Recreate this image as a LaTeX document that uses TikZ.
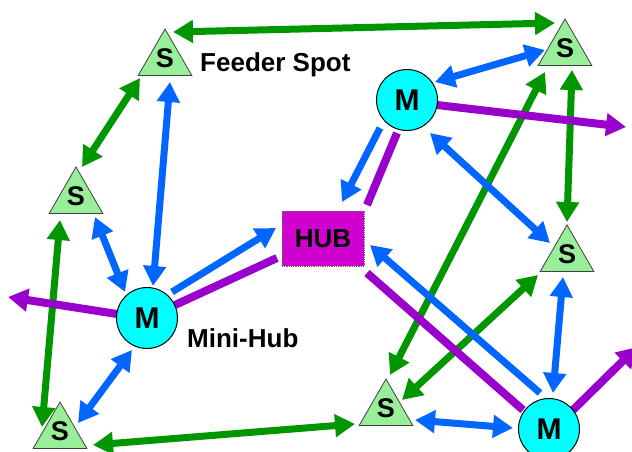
\documentclass[tikz,border=0pt]{standalone}
\usepackage{fontspec}
\setmainfont{Liberation Sans}
\usetikzlibrary{arrows.meta,shapes.geometric,calc}
\pgfdeclarelayer{bg}
\pgfsetlayers{bg,main}
\definecolor{spotfill}{RGB}{153,238,153}
\definecolor{minifill}{RGB}{0,255,255}
\definecolor{hubfill}{RGB}{208,0,208}
\definecolor{agreen}{RGB}{0,150,0}
\definecolor{ablue}{RGB}{0,102,255}
\definecolor{apurple}{RGB}{153,0,204}
\begin{document}
\begin{tikzpicture}[x=1pt,y=-1pt,
  font=\fontsize{26}{30}\selectfont\bfseries,
  spot/.style={regular polygon, regular polygon sides=3, minimum size=62pt, inner sep=0pt,
    fill=spotfill, draw=black!75, line width=0.8pt,
    font=\fontsize{27}{30}\selectfont\bfseries},
  mini/.style={circle, minimum size=61pt, inner sep=0pt, fill=minifill, draw=black, line width=1pt,
    font=\fontsize{30}{30}\selectfont\bfseries},
  hubbox/.style={rectangle, minimum width=82pt, minimum height=55pt, inner sep=0pt,
    fill=hubfill, draw=black!60, densely dotted, line width=0.8pt},
  lbl/.style={anchor=base west, inner sep=0pt},
  tipx/.tip={Triangle[length=20pt,width=22pt]},
  garrow/.style={draw=agreen, line width=7pt, tipx-tipx},
  barrow/.style={draw=ablue, line width=7pt, tipx-tipx},
  bsingle/.style={draw=ablue, line width=7pt, -tipx},
  pline/.style={draw=apurple, line width=8pt},
  parrow/.style={draw=apurple, line width=8pt, -tipx}
]
\useasboundingbox (0,0) rectangle (632,452);

% nodes
\node[spot] (S1) at (165,60) {\raisebox{3pt}{S}};
\node[spot] (S2) at (76,198) {\raisebox{3pt}{S}};
\node[spot] (S3) at (60,433) {\raisebox{3pt}{S}};
\node[spot] (S4) at (386,410) {\raisebox{3pt}{S}};
\node[spot] (S5) at (567,256) {\raisebox{3pt}{S}};
\node[spot] (S6) at (565,50) {\raisebox{3pt}{S}};
\node[mini] (M1) at (147,318) {M};
\node[mini] (M2) at (407,100) {M};
\node[mini] (M3) at (549,429) {M};
\node[hubbox] (HUB) at (323,238.5) {HUB};
\node[lbl] (lblF) at (200,72) {Feeder Spot};
\node[lbl] (lblM) at (187,347) {Mini-Hub};

\coordinate (outL) at (8,297);
\coordinate (outR) at (626,127);
\coordinate (outB) at (637,347);

\begin{pgfonlayer}{bg}
% green
\draw[garrow] ($(S1)+(8,-28)$) -- ($(S6)+(-10,-27)$);
\draw[garrow] ($(S2)+(6,-31)$) -- ($(S1)+(-25,18)$);
\draw[garrow] ($(S2)+(-16,22)$) -- ($(S3)+(-18,-6)$);
\draw[garrow] ($(S3)+(33,12)$) -- ($(S4)+(-31,14)$);
\draw[garrow] ($(S6)+(7,20)$) -- ($(S5)+(0,-34)$);
\draw[garrow] ($(S4)+(4,-35)$) -- ($(S6)+(-20,22)$);
\draw[garrow] ($(S4)+(16,-10)$) -- ($(S5)+(-29,19)$);
% purple
\draw[pline] ($(M1)+(28,-13)$) -- ($(HUB)+(-46,19.5)$);
\draw[parrow] ($(M1)+(-30,-4)$) -- (outL);
\draw[pline] ($(M2)+(-10,33)$) -- ($(HUB)+(44,-33.5)$);
\draw[parrow] ($(M2)+(30,5)$) -- (outR);
\draw[pline] ($(HUB)+(44,34.5)$) -- ($(M3)+(-26,-19)$);
\draw[parrow] ($(M3)+(24,-19)$) -- (outB);
% blue
\draw[barrow] ($(S1)+(5,22)$) -- ($(M1)+(6,-32)$);
\draw[barrow] ($(S2)+(19,19)$) -- ($(M1)+(-22,-26)$);
\draw[barrow] ($(M1)+(-15,32)$) -- ($(S3)+(18,-10)$);
\draw[bsingle] ($(M1)+(25,-26)$) -- ($(HUB)+(-47,-10.5)$);
\draw[bsingle] ($(M2)+(-27,28)$) -- ($(HUB)+(19,-36.5)$);
\draw[barrow] ($(M2)+(28,-18)$) -- ($(S6)+(-20,0)$);
\draw[barrow] ($(M2)+(23,33)$) -- ($(S5)+(-17,-13)$);
\draw[bsingle] ($(M3)+(-9,-36)$) -- ($(HUB)+(47,6.5)$);
\draw[barrow] ($(S5)+(-4,21)$) -- ($(M3)+(4,-36)$);
\draw[barrow] ($(S4)+(29,10)$) -- ($(M3)+(-36,-1)$);
\end{pgfonlayer}
\end{tikzpicture}
\end{document}
